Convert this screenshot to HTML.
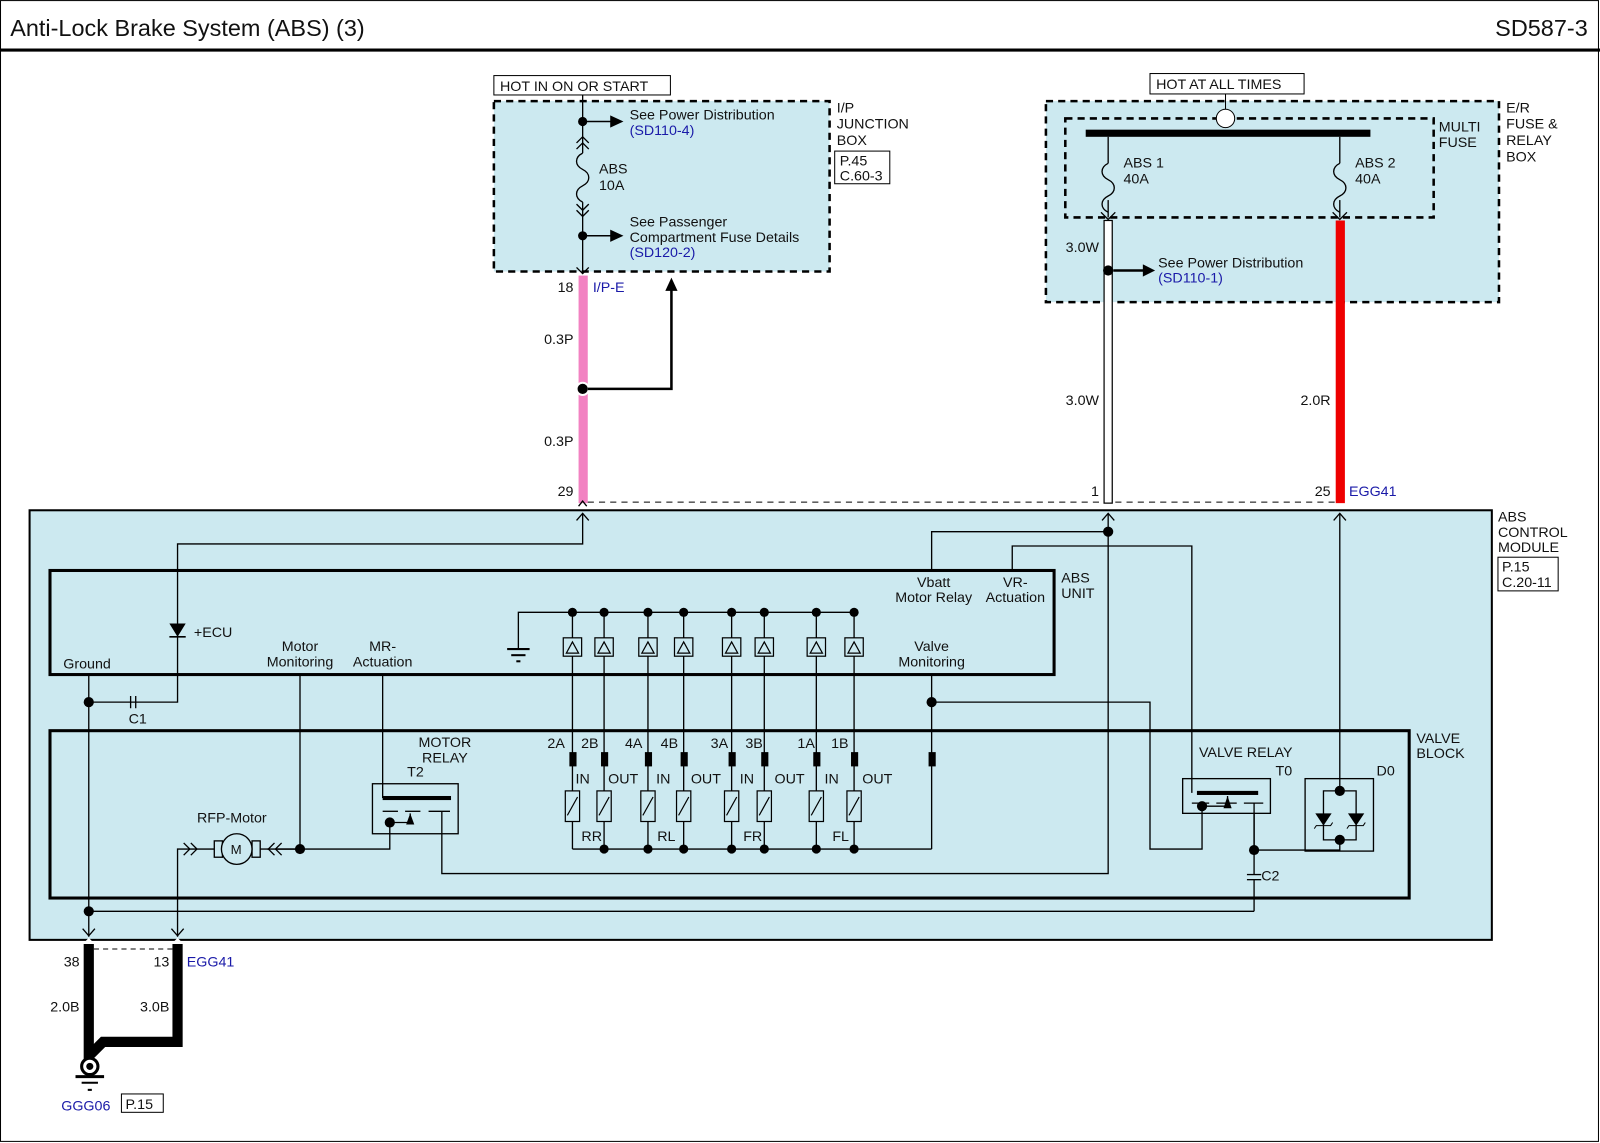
<!DOCTYPE html>
<html><head><meta charset="utf-8"><style>
html,body{margin:0;padding:0;background:#fff}
svg{display:block}
text{font-family:"Liberation Sans",Arial,sans-serif;font-size:14px;fill:#111}
.b{fill:#1a1aa8}
</style></head><body>
<svg width="1600" height="1143" viewBox="0 0 1568 1120" xmlns="http://www.w3.org/2000/svg">
<rect x="0.5" y="0.5" width="1566" height="1118" fill="#fff" stroke="#000" stroke-width="1"/>
<text x="10" y="35" style="font-size:23px">Anti-Lock Brake System (ABS) (3)</text>
<text x="1556" y="35" text-anchor="end" style="font-size:23px">SD587-3</text>
<line x1="0" y1="49" x2="1568" y2="49" stroke="#000" stroke-width="3"/>

<rect x="484" y="99" width="329" height="167" fill="#cce9f0" stroke="#000" stroke-width="2.5" stroke-dasharray="7,5"/>
<rect x="484" y="74" width="173" height="19" fill="#fff" stroke="#000"/>
<text x="490" y="89">HOT IN ON OR START</text>
<text x="820" y="110">I/P</text><text x="820" y="126">JUNCTION</text><text x="820" y="142">BOX</text>
<rect x="818" y="148" width="54" height="32" fill="#fff" stroke="#000"/>
<text x="823" y="162">P.45</text><text x="823" y="177">C.60-3</text>
<g stroke="#000" stroke-width="1.3" fill="none">
<line x1="571" y1="93" x2="571" y2="140"/>
<polyline points="565,140 571,134 577,140"/><polyline points="565,146 571,140 577,146"/>
<line x1="571" y1="140" x2="571" y2="150"/>
<path d="M571,150 c-8,4 -8,12 0,16 c8,4 8,12 0,16 c-8,4 -8,12 0,16"/>
<line x1="571" y1="198" x2="571" y2="268"/>
<polyline points="565,200 571,206 577,200"/><polyline points="565,206 571,212 577,206"/>
<polyline points="565,262 571,268 577,262"/>
<line x1="571" y1="119" x2="600" y2="119" stroke-width="1.5"/>
<line x1="571" y1="231" x2="600" y2="231" stroke-width="1.5"/>
</g>
<circle cx="571" cy="119" r="4.5"/><circle cx="571" cy="231" r="4.5"/>
<polygon points="598,113 611,119 598,125"/><polygon points="598,225 611,231 598,237"/>
<text x="617" y="117">See Power Distribution</text><text x="617" y="132" class="b">(SD110-4)</text>
<text x="587" y="170">ABS</text><text x="587" y="186">10A</text>
<text x="617" y="222">See Passenger</text><text x="617" y="237">Compartment Fuse Details</text><text x="617" y="252" class="b">(SD120-2)</text>

<rect x="567" y="270" width="9" height="223" fill="#f282c2"/>
<text x="562" y="286" text-anchor="end">18</text><text x="581" y="286" class="b">I/P-E</text>
<text x="562" y="337" text-anchor="end">0.3P</text><text x="562" y="437" text-anchor="end">0.3P</text>
<text x="562" y="486" text-anchor="end">29</text>
<circle cx="571" cy="381" r="7" fill="#fff"/><circle cx="571" cy="381" r="5"/>
<polyline points="576,381 658,381 658,282" fill="none" stroke="#000" stroke-width="2.5"/>
<polygon points="652,285 658,272 664,285"/>
<line x1="576" y1="492" x2="1308" y2="492" stroke="#000" stroke-dasharray="6,5"/>

<rect x="1025" y="99" width="444" height="197" fill="#cce9f0" stroke="#000" stroke-width="2.5" stroke-dasharray="7,5"/>
<rect x="1044" y="116" width="361" height="97" fill="none" stroke="#000" stroke-width="2.5" stroke-dasharray="7,5"/>
<rect x="1127" y="72" width="151" height="20" fill="#fff" stroke="#000"/>
<text x="1133" y="87">HOT AT ALL TIMES</text>
<text x="1410" y="129">MULTI</text><text x="1410" y="144">FUSE</text>
<text x="1476" y="110">E/R</text><text x="1476" y="126">FUSE &amp;</text><text x="1476" y="142">RELAY</text><text x="1476" y="158">BOX</text>
<line x1="1201" y1="92" x2="1201" y2="108" stroke="#000"/>
<rect x="1064" y="127" width="279" height="7" fill="#000"/>
<circle cx="1201" cy="116" r="9" fill="#fff" stroke="#000"/>
<g stroke="#000" stroke-width="1.3" fill="none">
<line x1="1086" y1="134" x2="1086" y2="160"/><path d="M1086,160 c-8,4 -8,12 0,16 c8,4 8,12 0,16 c-8,4 -8,12 0,16"/><line x1="1086" y1="196" x2="1086" y2="213"/>
<polyline points="1079,208 1086,215 1093,208"/>
<line x1="1313" y1="134" x2="1313" y2="160"/><path d="M1313,160 c-8,4 -8,12 0,16 c8,4 8,12 0,16 c-8,4 -8,12 0,16"/><line x1="1313" y1="196" x2="1313" y2="213"/>
<polyline points="1306,208 1313,215 1320,208"/>
</g>
<text x="1101" y="164">ABS 1</text><text x="1101" y="180">40A</text>
<text x="1328" y="164">ABS 2</text><text x="1328" y="180">40A</text>
<rect x="1082" y="216" width="8" height="277" fill="#fff" stroke="#000" stroke-width="1.2"/>
<rect x="1309" y="216" width="9" height="277" fill="#ee0000"/>
<text x="1077" y="247" text-anchor="end">3.0W</text><text x="1077" y="397" text-anchor="end">3.0W</text>
<text x="1304" y="397" text-anchor="end">2.0R</text>
<text x="1077" y="486" text-anchor="end">1</text><text x="1304" y="486" text-anchor="end">25</text><text x="1322" y="486" class="b">EGG41</text>
<circle cx="1086" cy="265" r="5"/>
<line x1="1091" y1="265" x2="1122" y2="265" stroke="#000" stroke-width="2.5"/>
<polygon points="1120,259 1132,265 1120,271"/>
<text x="1135" y="262">See Power Distribution</text><text x="1135" y="277" class="b">(SD110-1)</text>

<rect x="29" y="500" width="1433" height="421" fill="#cce9f0" stroke="#000" stroke-width="2"/>
<text x="1468" y="511">ABS</text><text x="1468" y="526">CONTROL</text><text x="1468" y="541">MODULE</text>
<rect x="1468" y="546" width="59" height="33" fill="#fff" stroke="#000"/>
<text x="1472" y="560">P.15</text><text x="1472" y="575">C.20-11</text>
<rect x="49" y="559" width="984" height="102" fill="none" stroke="#000" stroke-width="3"/>
<text x="1040" y="571">ABS</text><text x="1040" y="586">UNIT</text>
<rect x="49" y="716" width="1332" height="164" fill="none" stroke="#000" stroke-width="3"/>
<text x="1388" y="728">VALVE</text><text x="1388" y="743">BLOCK</text>

<g stroke="#000" stroke-width="1.3" fill="none">
<polyline points="565,510 571,503 577,510"/><polyline points="567,496 571,491 575,496"/>
<polyline points="1080,510 1086,503 1092,510"/><polyline points="1307,510 1313,503 1319,510"/>
<polyline points="571,503 571,533 174,533 174,688 87,688"/>
<line x1="87" y1="661" x2="87" y2="918"/>
<polyline points="81,910 87,917 93,910"/>
<line x1="87" y1="893" x2="1229" y2="893"/>
<polyline points="1229,893 1229,862"/><line x1="1222" y1="862" x2="1236" y2="862"/><line x1="1222" y1="857" x2="1236" y2="857"/>
<line x1="1229" y1="857" x2="1229" y2="797"/>
<line x1="294" y1="661" x2="294" y2="832"/>
<polyline points="262,832 382,832 382,806"/>
<polyline points="382,806 402,806 402,797"/>
<line x1="375" y1="661" x2="375" y2="782"/>
<rect x="365" y="768" width="84" height="49"/>
<line x1="375" y1="795" x2="390" y2="795"/><line x1="397" y1="795" x2="412" y2="795"/><line x1="420" y1="795" x2="441" y2="795"/>
<polyline points="433,795 433,856 1086,856 1086,503"/>
<polyline points="1086,521 913,521 913,559"/>
<polyline points="992,559 992,535 1168,535 1168,777"/>
<polyline points="180,826 186,832 180,838"/><polyline points="187,826 193,832 187,838"/>
<polyline points="174,918 174,832 193,832"/>
<polyline points="168,910 174,917 180,910"/>
<line x1="193" y1="832" x2="210" y2="832"/>
<rect x="210" y="824" width="8" height="16"/><rect x="247" y="824" width="8" height="16"/>
<circle cx="232" cy="832" r="15" fill="#cce9f0"/>
<polyline points="269,826 263,832 269,838"/><polyline points="276,826 270,832 276,838"/>
<line x1="255" y1="832" x2="263" y2="832"/><line x1="270" y1="832" x2="294" y2="832"/>
<line x1="128" y1="682" x2="128" y2="694"/><line x1="133" y1="682" x2="133" y2="694"/>
<line x1="913" y1="661" x2="913" y2="832"/>
<polyline points="913,688 1127,688 1127,832 1178,832 1178,790"/>
<polyline points="1178,790 1203,790 1203,780"/>
<rect x="1159" y="763" width="86" height="34"/>
<line x1="1168" y1="787" x2="1185" y2="787"/><line x1="1192" y1="787" x2="1212" y2="787"/><line x1="1219" y1="787" x2="1238" y2="787"/>
<polyline points="1229,787 1229,833 1313,833 1313,823"/>
<line x1="1313" y1="503" x2="1313" y2="775"/>
<rect x="1279" y="763" width="67" height="71"/>
<polyline points="1313,775 1297,775 1297,823 1329,823 1329,775 1313,775"/>
<polyline points="508,635 508,600 837,600"/>
<line x1="497" y1="636" x2="519" y2="636" stroke-width="2"/><line x1="501" y1="642" x2="515" y2="642" stroke-width="2"/><line x1="506" y1="648" x2="510" y2="648" stroke-width="2"/>
<line x1="561" y1="832" x2="913" y2="832"/>
</g>
<circle cx="1086" cy="521" r="5"/><circle cx="913" cy="688" r="5"/><circle cx="87" cy="688" r="5"/><circle cx="87" cy="893" r="5"/>
<circle cx="294" cy="832" r="5"/><circle cx="382" cy="806" r="5"/><circle cx="1178" cy="790" r="5"/><circle cx="1229" cy="833" r="5"/>
<circle cx="1313" cy="775" r="5"/><circle cx="1313" cy="823" r="5"/>
<polygon points="398,808 402,797 406,808"/><polygon points="1199,792 1203,780 1207,792"/>
<rect x="375" y="780" width="67" height="4" fill="#000"/><rect x="1173" y="775" width="60" height="4" fill="#000"/>
<polygon points="166,611 182,611 174,624"/><line x1="166" y1="624" x2="182" y2="624" stroke="#000" stroke-width="1.5"/>
<polygon points="1289,797 1305,797 1297,809"/><polyline points="1288,812 1290,809 1304,809 1306,806" fill="none" stroke="#000"/>
<polygon points="1321,797 1337,797 1329,809"/><polyline points="1320,812 1322,809 1336,809 1338,806" fill="none" stroke="#000"/>
<text x="190" y="624">+ECU</text><text x="62" y="655">Ground</text><text x="126" y="709">C1</text>
<text x="294" y="638" text-anchor="middle">Motor</text><text x="294" y="653" text-anchor="middle">Monitoring</text>
<text x="375" y="638" text-anchor="middle">MR-</text><text x="375" y="653" text-anchor="middle">Actuation</text>
<text x="915" y="575" text-anchor="middle">Vbatt</text><text x="915" y="590" text-anchor="middle">Motor Relay</text>
<text x="995" y="575" text-anchor="middle">VR-</text><text x="995" y="590" text-anchor="middle">Actuation</text>
<text x="913" y="638" text-anchor="middle">Valve</text><text x="913" y="653" text-anchor="middle">Monitoring</text>
<text x="436" y="732" text-anchor="middle">MOTOR</text><text x="436" y="747" text-anchor="middle">RELAY</text><text x="399" y="761">T2</text>
<text x="193" y="806">RFP-Motor</text>
<text x="226" y="837" style="font-size:13px">M</text>
<text x="1175" y="742">VALVE RELAY</text><text x="1250" y="760">T0</text><text x="1349" y="760">D0</text>
<text x="1236" y="863">C2</text>

<g stroke="#000" stroke-width="1.3" fill="none">
<line x1="561" y1="600" x2="561" y2="832"/><line x1="592" y1="600" x2="592" y2="832"/>
<line x1="635" y1="600" x2="635" y2="832"/><line x1="670" y1="600" x2="670" y2="832"/>
<line x1="717" y1="600" x2="717" y2="832"/><line x1="749" y1="600" x2="749" y2="832"/>
<line x1="800" y1="600" x2="800" y2="832"/><line x1="837" y1="600" x2="837" y2="832"/>
</g>
<g fill="#cce9f0" stroke="#000" stroke-width="1.2">
<rect x="552" y="625" width="18" height="18"/><rect x="583" y="625" width="18" height="18"/>
<rect x="626" y="625" width="18" height="18"/><rect x="661" y="625" width="18" height="18"/>
<rect x="708" y="625" width="18" height="18"/><rect x="740" y="625" width="18" height="18"/>
<rect x="791" y="625" width="18" height="18"/><rect x="828" y="625" width="18" height="18"/>
<polygon points="555,640 561,629 567,640"/><polygon points="586,640 592,629 598,640"/>
<polygon points="629,640 635,629 641,640"/><polygon points="664,640 670,629 676,640"/>
<polygon points="711,640 717,629 723,640"/><polygon points="743,640 749,629 755,640"/>
<polygon points="794,640 800,629 806,640"/><polygon points="831,640 837,629 843,640"/>
<rect x="554" y="775" width="14" height="30"/><rect x="585" y="775" width="14" height="30"/>
<rect x="628" y="775" width="14" height="30"/><rect x="663" y="775" width="14" height="30"/>
<rect x="710" y="775" width="14" height="30"/><rect x="742" y="775" width="14" height="30"/>
<rect x="793" y="775" width="14" height="30"/><rect x="830" y="775" width="14" height="30"/>
</g>
<g stroke="#000" stroke-width="1.2">
<line x1="556" y1="799" x2="566" y2="781"/><line x1="587" y1="799" x2="597" y2="781"/>
<line x1="630" y1="799" x2="640" y2="781"/><line x1="665" y1="799" x2="675" y2="781"/>
<line x1="712" y1="799" x2="722" y2="781"/><line x1="744" y1="799" x2="754" y2="781"/>
<line x1="795" y1="799" x2="805" y2="781"/><line x1="832" y1="799" x2="842" y2="781"/>
</g>
<g>
<rect x="558" y="737" width="7" height="14"/><rect x="589" y="737" width="7" height="14"/>
<rect x="632" y="737" width="7" height="14"/><rect x="667" y="737" width="7" height="14"/>
<rect x="714" y="737" width="7" height="14"/><rect x="746" y="737" width="7" height="14"/>
<rect x="797" y="737" width="7" height="14"/><rect x="834" y="737" width="7" height="14"/>
<rect x="910" y="737" width="7" height="14"/>
<circle cx="561" cy="600" r="4.5"/><circle cx="592" cy="600" r="4.5"/><circle cx="635" cy="600" r="4.5"/><circle cx="670" cy="600" r="4.5"/>
<circle cx="717" cy="600" r="4.5"/><circle cx="749" cy="600" r="4.5"/><circle cx="800" cy="600" r="4.5"/><circle cx="837" cy="600" r="4.5"/>
<circle cx="592" cy="832" r="4.5"/><circle cx="635" cy="832" r="4.5"/><circle cx="670" cy="832" r="4.5"/>
<circle cx="717" cy="832" r="4.5"/><circle cx="749" cy="832" r="4.5"/><circle cx="800" cy="832" r="4.5"/><circle cx="837" cy="832" r="4.5"/>
</g>
<text x="545" y="733" text-anchor="middle">2A</text><text x="578" y="733" text-anchor="middle">2B</text>
<text x="621" y="733" text-anchor="middle">4A</text><text x="656" y="733" text-anchor="middle">4B</text>
<text x="705" y="733" text-anchor="middle">3A</text><text x="739" y="733" text-anchor="middle">3B</text>
<text x="790" y="733" text-anchor="middle">1A</text><text x="823" y="733" text-anchor="middle">1B</text>
<text x="564" y="768">IN</text><text x="596" y="768">OUT</text><text x="643" y="768">IN</text><text x="677" y="768">OUT</text>
<text x="725" y="768">IN</text><text x="759" y="768">OUT</text><text x="808" y="768">IN</text><text x="845" y="768">OUT</text>
<text x="590" y="824" text-anchor="end">RR</text><text x="662" y="824" text-anchor="end">RL</text>
<text x="747" y="824" text-anchor="end">FR</text><text x="832" y="824" text-anchor="end">FL</text>

<line x1="92" y1="930" x2="170" y2="930" stroke="#000" stroke-dasharray="5,4"/>
<polyline points="174,925 174,1021 101,1021 87,1035" fill="none" stroke="#000" stroke-width="10" stroke-linejoin="miter"/>
<line x1="87" y1="925" x2="87" y2="1040" stroke="#000" stroke-width="10"/>
<polygon points="81,925 87,919 93,925" fill="#fff"/><polygon points="168,925 174,919 180,925" fill="#fff"/>
<text x="78" y="947" text-anchor="end">38</text><text x="166" y="947" text-anchor="end">13</text><text x="183" y="947" class="b">EGG41</text>
<text x="78" y="991" text-anchor="end">2.0B</text><text x="166" y="991" text-anchor="end">3.0B</text>
<circle cx="88" cy="1045" r="8" fill="#fff" stroke="#000" stroke-width="3"/><circle cx="88" cy="1045" r="3.5"/>
<line x1="74" y1="1055" x2="102" y2="1055" stroke="#000" stroke-width="3"/>
<line x1="80" y1="1061" x2="96" y2="1061" stroke="#000" stroke-width="2"/>
<line x1="86" y1="1068" x2="90" y2="1068" stroke="#000" stroke-width="2"/>
<text x="60" y="1088" class="b">GGG06</text>
<rect x="119" y="1072" width="41" height="18" fill="#fff" stroke="#000"/>
<text x="123" y="1087">P.15</text>
</svg>
</body></html>
